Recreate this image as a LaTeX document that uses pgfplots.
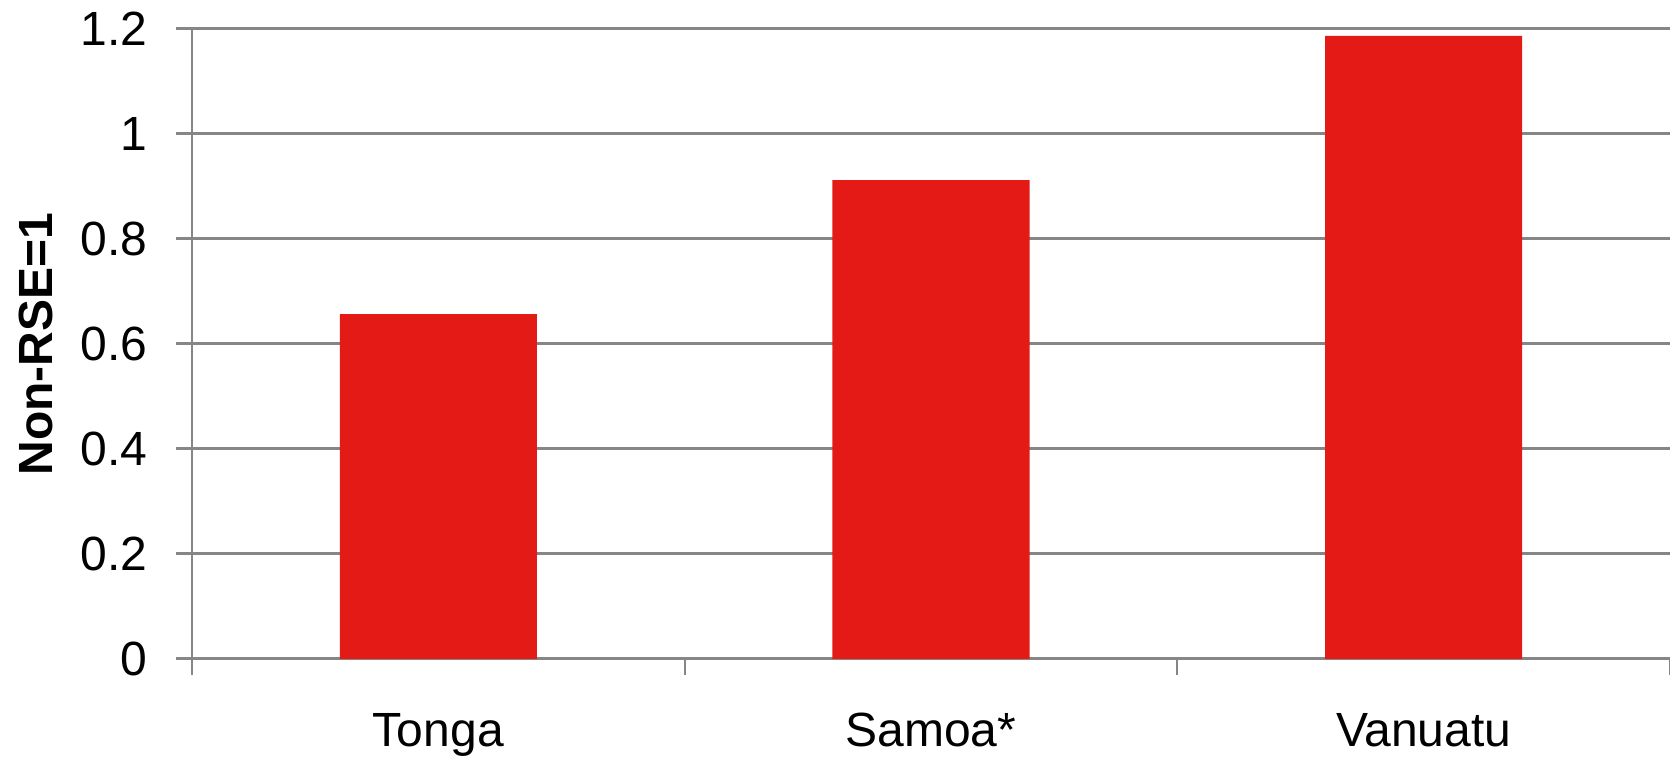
\documentclass[border=0pt]{standalone}
\usepackage{fontspec}
\setmainfont{Liberation Sans}
\usepackage{pgfplots}
\pgfplotsset{compat=1.18}
\definecolor{barred}{RGB}{227,26,22}
\definecolor{gridgray}{RGB}{134,134,134}
\begin{document}
\begin{tikzpicture}
\begin{axis}[
  scale only axis,
  width=739pt, height=315pt,
  xmin=-0.5, xmax=2.5,
  ymin=0, ymax=1.2,
  ytick={0,0.2,0.4,0.6,0.8,1,1.2},
  xtick={0,1,2},
  xticklabels={Tonga,Samoa*,Vanuatu},
  minor xtick={-0.5,0.5,1.5,2.5},
  /pgf/number format/assume math mode=true,
  tick label style={font=\fontsize{24}{28}\selectfont},
  yticklabel style={anchor=east, inner sep=0pt, xshift=-14pt},
  xticklabel style={anchor=base, inner sep=0pt, yshift=-36pt},
  tick align=outside,
  major tick length=8pt,
  minor tick length=8pt,
  xtick style={draw=none},
  minor x tick style={draw=gridgray, line width=1pt},
  ytick style={draw=gridgray, line width=1.5pt},
  ymajorgrids,
  major grid style={draw=gridgray, line width=1.5pt},
  axis lines*=left,
  x axis line style={draw=gridgray, line width=1.5pt, -},
  y axis line style={draw=gridgray, line width=1pt, -},
  ylabel={\bfseries Non-RSE=1},
  ylabel style={font=\fontsize{24}{28}\selectfont, at={(axis description cs:-0.094,0.5)}, anchor=south, inner sep=0pt},
  clip=false,
]
\addplot[ybar, bar width=0.4, fill=barred, draw=none] coordinates {(0,0.657) (1,0.912) (2,1.187)};
\end{axis}
\pgfresetboundingbox
\useasboundingbox ([xshift=-96pt,yshift=-49.5pt]current axis.south west) rectangle ([yshift=14.5pt]current axis.north east);
\end{tikzpicture}
\end{document}
